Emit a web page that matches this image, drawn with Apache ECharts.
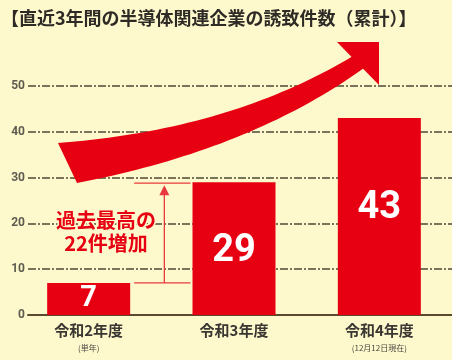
<!DOCTYPE html>
<html>
<head>
<meta charset="utf-8">
<script src="https://cdn.jsdelivr.net/npm/echarts@6/dist/echarts.min.js"></script>
<style>
html,body{margin:0;padding:0;background:#fef9cc;}
#c{width:452px;height:360px;}
</style>
</head>
<body>
<div id="c"></div>
<script>
const titleText = '【直近3年間の半導体関連企業の誘致件数（累計）】';
const categories = ['令和2年度', '令和3年度', '令和4年度'];
const subLabels = ['(単年)', '', '(12月12日現在)'];
const values = [7, 29, 43];
const yMin = 0, yMax = 50, yStep = 10;
const noteLines = ['過去最高の', '22件増加'];

const RED = '#e60012';
const JP = '"Noto Sans CJK JP", "Noto Sans", sans-serif';
const labelStyles = [
  {fontSize: 29, offset: [0, 0]},
  {fontSize: 38, offset: [0, 3]},
  {fontSize: 38, offset: [0, -8]}
];

const chart = echarts.init(document.getElementById('c'), null, {renderer: 'canvas'});

const barData = values.map((v, i) => ({
  value: v,
  label: {fontSize: labelStyles[i].fontSize, offset: labelStyles[i].offset}
}));

chart.setOption({
  backgroundColor: '#fef9cc',
  animation: false,
  title: {
    text: titleText, left: 1, top: 8, padding: 0,
    textStyle: {fontFamily: JP, fontSize: 18, fontWeight: 'bold', color: '#2e2b26', lineHeight: 20}
  },
  grid: [
    {left: 28, right: 0, top: 86, bottom: 45},
    {left: 16, right: -3, top: 86, bottom: 45}
  ],
  xAxis: [
    {type: 'value', gridIndex: 0, min: 0, max: 1, show: true,
      axisLine: {show: true, lineStyle: {color: '#5a4a30', width: 2}},
      axisTick: {show: false}, axisLabel: {show: false}, splitLine: {show: false}},
    {type: 'category', gridIndex: 1, data: categories,
      axisLine: {show: false}, axisTick: {show: false},
      axisLabel: {
        margin: 6, interval: 0,
        formatter: (v, i) => subLabels[i] ? '{a|' + v + '}\n{b|' + subLabels[i] + '}' : '{a|' + v + '}',
        rich: {
          a: {fontFamily: JP, fontSize: 15, fontWeight: 'bold', color: '#3a3733', lineHeight: 18},
          b: {fontFamily: JP, fontSize: 8, color: '#4a4640', lineHeight: 18}
        }
      }}
  ],
  yAxis: [
    {type: 'value', gridIndex: 0, min: yMin, max: yMax, interval: yStep,
      axisLine: {show: false}, axisTick: {show: false},
      axisLabel: {margin: 3, fontSize: 12, fontFamily: 'Roboto, sans-serif', fontWeight: 'bold', color: '#5e5b50'},
      splitLine: {show: true, lineStyle: {color: '#4f4a35', width: 1.5, type: [8, 2, 2, 2]}}},
    {type: 'value', gridIndex: 1, min: yMin, max: yMax, interval: yStep, show: false,
      splitLine: {show: false}}
  ],
  series: [{
    type: 'bar', xAxisIndex: 1, yAxisIndex: 1, data: barData, barWidth: 83,
    itemStyle: {color: RED},
    label: {show: true, position: 'inside', color: '#ffffff', fontFamily: 'Roboto, sans-serif', fontWeight: 'bold'},
    z: 3
  }]
});

function drawDecor() {
  const p = (i, v) => chart.convertToPixel({xAxisIndex: 1, yAxisIndex: 1}, [i, v]);
  const bw = 83;
  const b1 = p(0, values[0]);
  const b2 = p(1, values[1]);
  const xl = b1[0] + bw / 2 + 4;
  const xr = b2[0] - bw / 2 - 2;
  const xm = (xl + xr) / 2 + 2;
  const lineStyle = {stroke: '#e8383d', lineWidth: 1.3};

  // big curved arrow (decoration)
  function quad(P0, C, P2, n) {
    const pts = [];
    for (let k = 0; k <= n; k++) {
      const t = k / n;
      pts.push([
        (1 - t) * (1 - t) * P0[0] + 2 * t * (1 - t) * C[0] + t * t * P2[0],
        (1 - t) * (1 - t) * P0[1] + 2 * t * (1 - t) * C[1] + t * t * P2[1]
      ]);
    }
    return pts;
  }
  const upper = quad([58, 143], [230, 130], [353, 56], 40);
  const lower = quad([77, 183], [250, 150], [364, 68], 40).reverse();
  const body = upper.concat(lower);

  chart.setOption({
    graphic: [
      {type: 'polygon', shape: {points: body}, style: {fill: RED}, z: 5},
      {type: 'polygon', shape: {points: [[337, 42], [379, 42], [379, 85]]}, style: {fill: RED}, z: 5},
      {type: 'line', shape: {x1: xl, y1: b2[1] + 1, x2: xr, y2: b2[1] + 1}, style: lineStyle, z: 4},
      {type: 'line', shape: {x1: xl, y1: b1[1], x2: xr, y2: b1[1]}, style: lineStyle, z: 4},
      {type: 'line', shape: {x1: xm, y1: b1[1], x2: xm, y2: b2[1] + 12}, style: lineStyle, z: 4},
      {type: 'polygon', shape: {points: [[xm, b2[1] + 3], [xm - 5, b2[1] + 13], [xm + 5, b2[1] + 13]]}, style: {fill: '#e8383d'}, z: 4},
      {type: 'text', x: 106, y: 232, z: 6,
        style: {text: noteLines.join('\n'), fill: RED, font: 'bold 20px ' + JP, lineHeight: 23,
          align: 'center', verticalAlign: 'middle', stroke: '#fef9cc', lineWidth: 3}}
    ]
  });
}
drawDecor();
</script>
</body>
</html>
